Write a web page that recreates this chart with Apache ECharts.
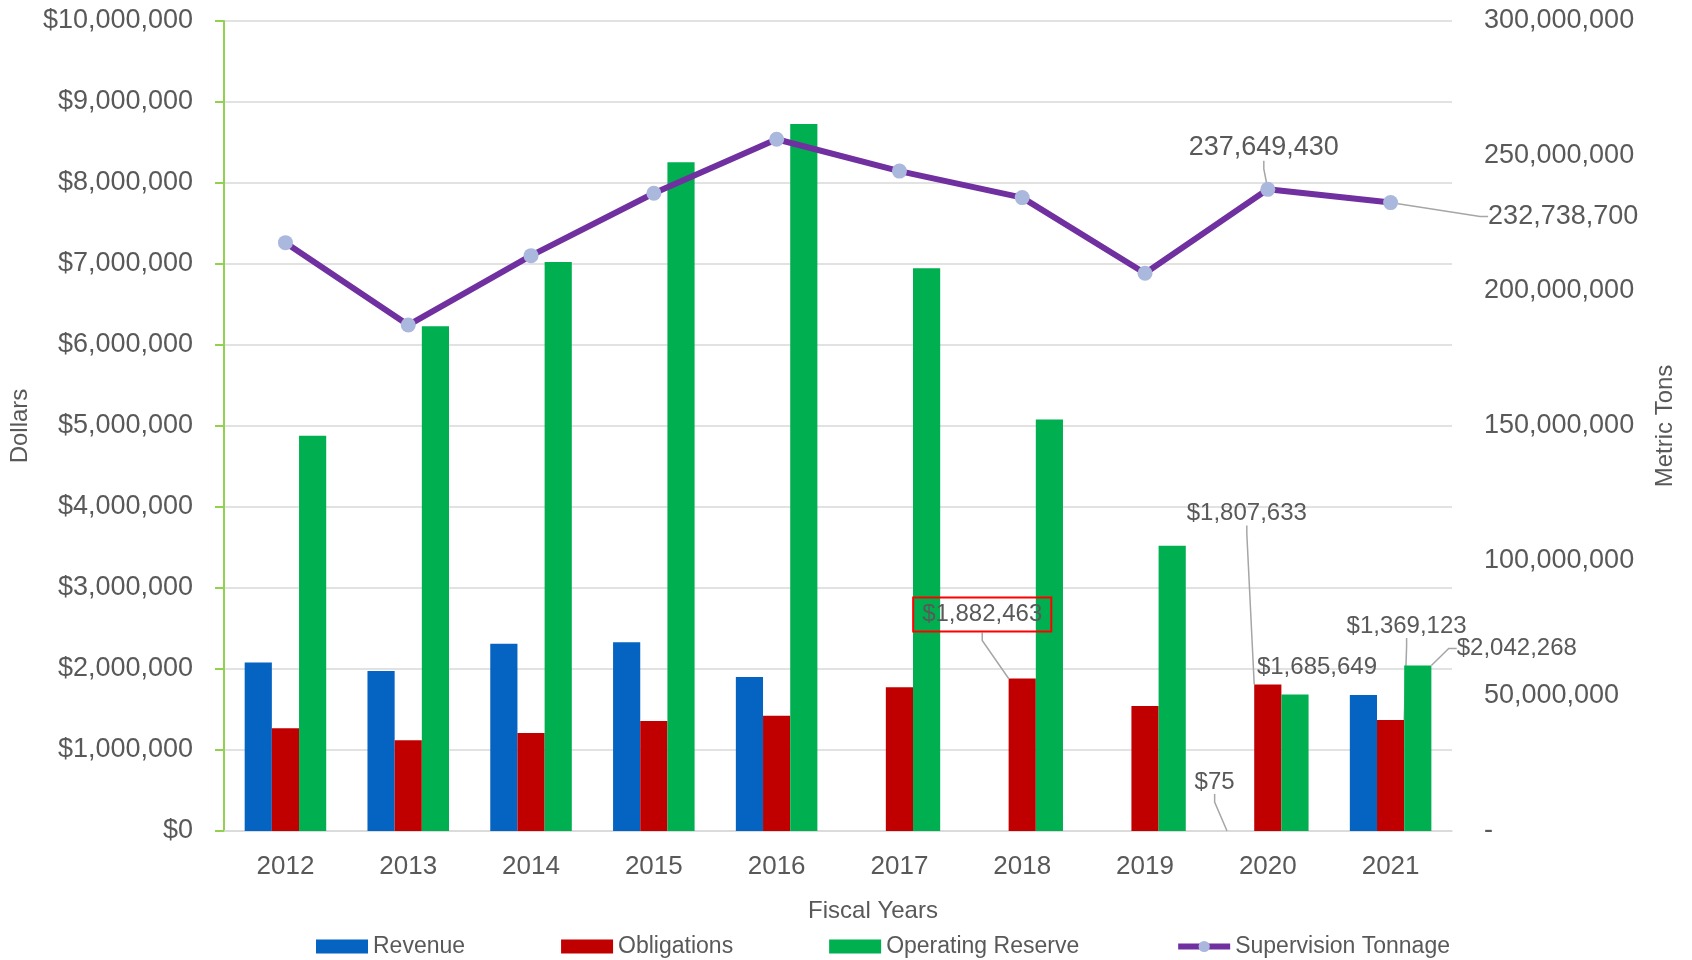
<!DOCTYPE html>
<html>
<head>
<meta charset="utf-8">
<title>Supervision Fund</title>
<script src="https://cdn.jsdelivr.net/npm/echarts@6/dist/echarts.min.js"></script>
<style>
  html, body { margin: 0; padding: 0; background: #fff; }
  #chart { width: 1692px; height: 960px; }
</style>
</head>
<body>
<div id="chart"></div>
<script>
// data
var years = ['2012', '2013', '2014', '2015', '2016', '2017', '2018', '2019', '2020', '2021'];
var revenue = [2080000, 1975000, 2312000, 2330000, 1900000, 0, 0, 0, 75, 1680000];
var obligations = [1268000, 1120000, 1210000, 1358000, 1424000, 1774000, 1882463, 1543000, 1807633, 1369123];
var reserve = [4879000, 6231000, 7025000, 8255000, 8728000, 6947000, 5079000, 3521000, 1685649, 2042268];
var tonnage = [217900000, 187400000, 213100000, 236200000, 256200000, 244400000, 234600000, 206600000, 237649430, 232738700];

// which points carry a data label, and how far the label is moved (dx, dy, guide line)
var revenueLabels = { 8: [-26, -32, true] };
var obligationLabels = { 6: [-40, -42, true], 8: [-21, -154, true], 9: [16, -77, true] };
var reserveLabels = { 8: [22, -10, false], 9: [99, 0, true] };
var tonnageLabels = { 8: [-4, -16, true], 9: [85, 14, true] };

var FONT = '"Liberation Sans", Arial, sans-serif';
var GREY = '#595959';

function money(v) {
    return '$' + Number(v).toLocaleString('en-US');
}

function withLabels(values, labels, fmt, pos, extra) {
    return values.map(function (v, i) {
        if (!labels[i]) return v;
        var lab = {
            show: true,
            position: pos,
            fontSize: 24,
            color: GREY,
            fontFamily: FONT,
            formatter: function (p) { return fmt(p.value); }
        };
        if (extra && extra[i]) Object.assign(lab, extra[i]);
        return {
            value: v,
            label: lab,
            labelLine: { show: labels[i][2], length2: 8, lineStyle: { color: '#a6a6a6', width: 1.5 } }
        };
    });
}

function moveLabel(labels) {
    return function (params) {
        var o = labels[params.dataIndex];
        return o ? { dx: o[0], dy: o[1] } : {};
    };
}

var myChart = echarts.init(document.getElementById('chart'));

var option = {
    animation: false,
    textStyle: { fontFamily: FONT },
    grid: { left: 223, right: 240, top: 21, bottom: 129 },
    legend: {
        left: 311,
        top: 930,
        itemGap: 96,
        itemWidth: 52,
        itemHeight: 14,
        textStyle: { fontSize: 23, color: GREY, fontFamily: FONT },
        data: [
            { name: 'Revenue', icon: 'rect' },
            { name: 'Obligations', icon: 'rect' },
            { name: 'Operating Reserve', icon: 'rect' },
            { name: 'Supervision Tonnage', lineStyle: { width: 6 } }
        ]
    },
    xAxis: {
        type: 'category',
        data: years,
        name: 'Fiscal Years',
        nameLocation: 'middle',
        nameGap: 68,
        nameTextStyle: { fontSize: 24, color: GREY, padding: [0, 0, 0, 70] },
        axisTick: { show: false },
        axisLine: { lineStyle: { color: '#d9d9d9', width: 1.5 } },
        axisLabel: { fontSize: 26, color: GREY, margin: 23 }
    },
    yAxis: [
        {
            type: 'value',
            min: 0,
            max: 10000000,
            interval: 1000000,
            name: 'Dollars',
            nameLocation: 'middle',
            nameRotate: 90,
            nameGap: 188,
            nameTextStyle: { fontSize: 24, color: GREY },
            axisLine: { show: true, lineStyle: { color: '#92d050', width: 2 } },
            axisTick: { show: true, length: 9, lineStyle: { color: '#92d050', width: 2 } },
            axisLabel: { fontSize: 27, color: GREY, margin: 31, formatter: money },
            splitLine: { lineStyle: { color: '#d9d9d9', width: 1.5 } }
        },
        {
            type: 'value',
            min: 0,
            max: 300000000,
            interval: 50000000,
            name: 'Metric Tons',
            nameLocation: 'middle',
            nameRotate: 90,
            nameGap: 201,
            nameTextStyle: { fontSize: 24, color: GREY },
            axisLine: { show: false },
            axisTick: { show: false },
            axisLabel: {
                fontSize: 27, color: GREY, margin: 32,
                formatter: function (v) { return v === 0 ? '-' : v.toLocaleString('en-US'); }
            },
            splitLine: { show: false }
        }
    ],
    series: [
        {
            name: 'Revenue',
            type: 'bar',
            barGap: 0,
            barCategoryGap: '33.6%',
            itemStyle: { color: '#0563c1' },
            data: withLabels(revenue, revenueLabels, money, 'top'),
            labelLayout: moveLabel(revenueLabels)
        },
        {
            name: 'Obligations',
            type: 'bar',
            barGap: 0,
            barCategoryGap: '33.6%',
            itemStyle: { color: '#c00000' },
            data: withLabels(obligations, obligationLabels, money, 'top', {
                6: { borderColor: '#ff0000', borderWidth: 2, padding: [5, 9] }
            }),
            labelLayout: moveLabel(obligationLabels)
        },
        {
            name: 'Operating Reserve',
            type: 'bar',
            barGap: 0,
            barCategoryGap: '33.6%',
            itemStyle: { color: '#00b050' },
            data: withLabels(reserve, reserveLabels, money, 'top'),
            labelLayout: moveLabel(reserveLabels)
        },
        {
            name: 'Supervision Tonnage',
            type: 'line',
            yAxisIndex: 1,
            symbol: 'circle',
            symbolSize: 15,
            z: 5,
            lineStyle: { color: '#7030a0', width: 6 },
            itemStyle: { color: '#aab8dd' },
            data: withLabels(tonnage, tonnageLabels, function (v) {
                return Number(v).toLocaleString('en-US');
            }, 'top', { 8: { fontSize: 27 }, 9: { position: 'right', fontSize: 27 } }),
            labelLayout: moveLabel(tonnageLabels)
        }
    ]
};

myChart.setOption(option);
</script>
</body>
</html>
